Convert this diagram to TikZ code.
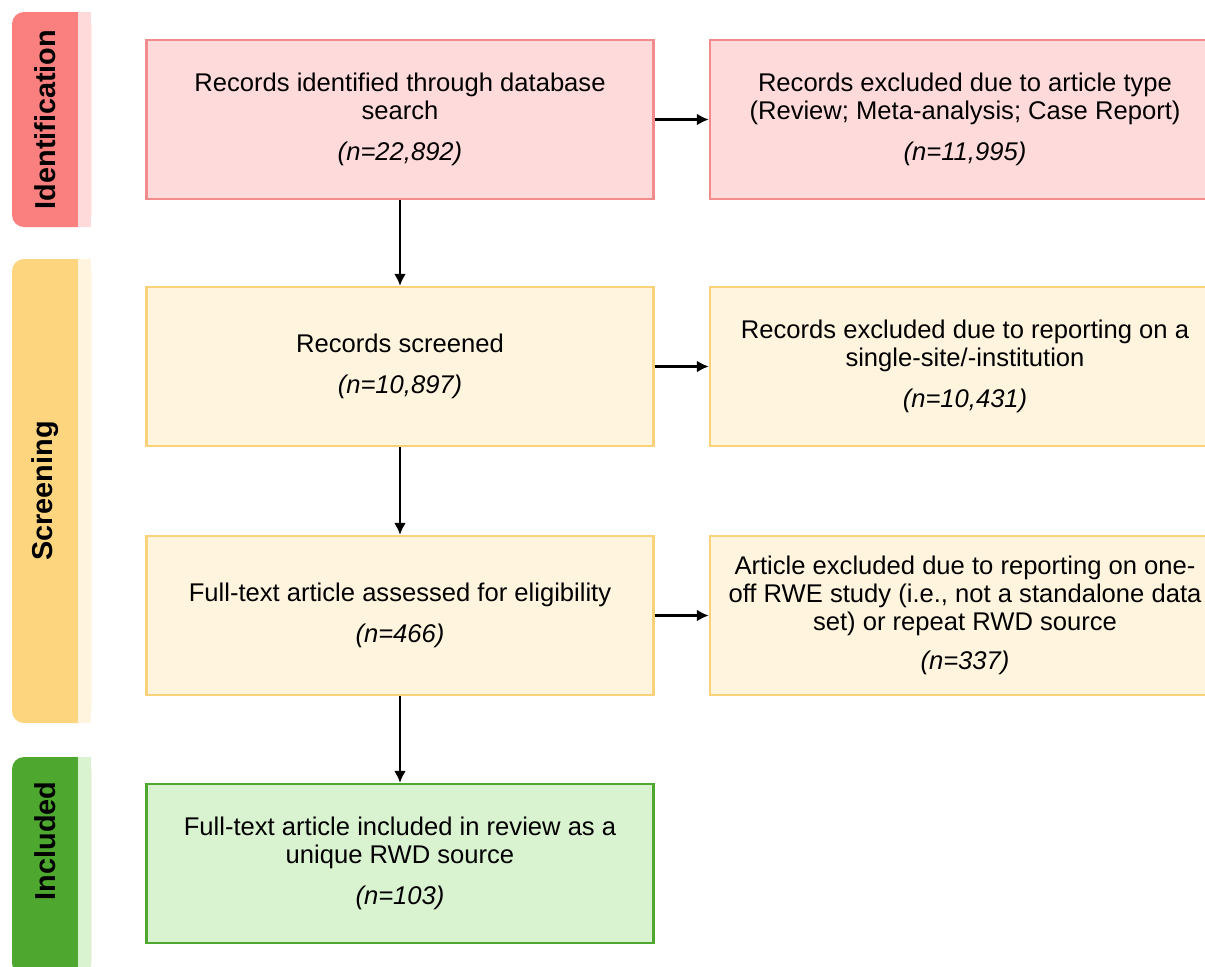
\documentclass[tikz,border=0pt]{standalone}
\usepackage{fontspec}
\setmainfont{Liberation Sans}
\usetikzlibrary{arrows.meta}

\definecolor{iddark}{HTML}{FA8080}
\definecolor{idlight}{HTML}{FFDADA}
\definecolor{idline}{HTML}{F28B8B}
\definecolor{scdark}{HTML}{FDD57E}
\definecolor{sclight}{HTML}{FFF4DE}
\definecolor{scline}{HTML}{F9D27A}
\definecolor{incdark}{HTML}{4EA72E}
\definecolor{inclight}{HTML}{D9F2D0}
\definecolor{incline}{HTML}{4EA72E}

\begin{document}
\begin{tikzpicture}[x=0.025cm,y=-0.025cm]
  \tikzset{box/.style = {draw,line width=1.6pt,minimum width=12.675cm,minimum height=3.975cm,
      align=center,inner sep=0pt,font=\fontsize{18.2}{19.8}\selectfont}}
  \tikzset{widebox/.style = {box,minimum width=12.75cm}}
  \tikzset{phase/.style = {rotate=90,font=\fontsize{20.5}{24}\selectfont\bfseries}}
  \tikzset{arr/.style = {line width=1.9pt,-{Latex[length=3mm,width=3mm]}}}

  \useasboundingbox (0,0) rectangle (1205,967);
  \clip (0,0) rectangle (1205,967);

  % phase bars
  \fill[iddark,rounded corners=0.3cm] (12,12) rectangle (91,227);
  \fill[idlight] (78,12) rectangle (91,227);
  \fill[scdark,rounded corners=0.3cm] (12,259) rectangle (91,723);
  \fill[sclight] (78,259) rectangle (91,723);
  \fill[incdark,rounded corners=0.3cm] (12,757) rectangle (91,975);
  \fill[inclight] (78,757) rectangle (91,975);

  \node[phase] (idlabel) at (45,119.5) {Identification};
  \node[phase] (sclabel) at (45,491) {Screening};
  \node[phase] (inclabel) at (45,841) {Included};

  % boxes
	\node[box,fill=idlight,draw=idline] (idrec) at (400,119.5)
	  {Records identified through database\\ search\\[9pt] \textit{(n=22,892)}};
	\node[widebox,fill=idlight,draw=idline] (idexcl) at (965,119.5)
	  {Records excluded due to article type\\ (Review; Meta-analysis; Case Report)\\[9pt] \textit{(n=11,995)}};
	\node[box,fill=sclight,draw=scline] (scrrec) at (400,366.5)
	  {Records screened\\[9pt] \textit{(n=10,897)}};
	\node[widebox,fill=sclight,draw=scline] (screxcl) at (965,366.5)
	  {Records excluded due to reporting on a\\ single-site/-institution\\[9pt] \textit{(n=10,431)}};
	\node[box,fill=sclight,draw=scline] (fulltext) at (400,615.5)
	  {Full-text article assessed for eligibility\\[9pt] \textit{(n=466)}};
	\node[widebox,fill=sclight,draw=scline] (ftexcl) at (965,615.5)
	  {Article excluded due to reporting on one-\\ off RWE study (i.e., not a standalone data\\ set) or repeat RWD source\\[8pt] \textit{(n=337)}};
	\node[box,fill=inclight,draw=incline] (incl) at (400,863.5)
	  {Full-text article included in review as a\\ unique RWD source\\[9pt] \textit{(n=103)}};

       \foreach \from/\to in {idrec/scrrec, scrrec/fulltext, fulltext/incl,
                              idrec/idexcl, scrrec/screxcl, fulltext/ftexcl}
    \draw[arr] (\from) -- (\to);
\end{tikzpicture}
\end{document}
